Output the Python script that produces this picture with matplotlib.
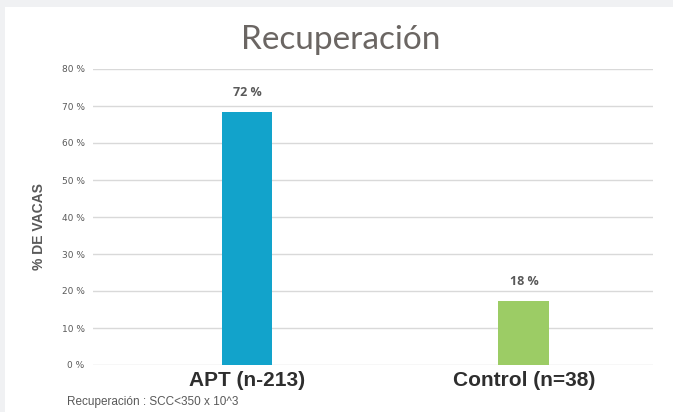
import matplotlib
matplotlib.use("Agg")
import matplotlib.pyplot as plt
from matplotlib.patches import Rectangle

categories = ["APT (n-213)", "Control (n=38)"]
values = [68.5, 17.3]
value_labels = ["72 %", "18 %"]
yticks = [0, 10, 20, 30, 40, 50, 60, 70, 80]
ytick_labels = ["0 %", "10 %", "20 %", "30 %", "40 %", "50 %", "60 %", "70 %", "80 %"]
colors = ["#12a3cb", "#9ccc65"]

W, H = 673, 412
fig = plt.figure(figsize=(W / 100, H / 100), dpi=100, facecolor="#f0f1f3")
fig.patches.append(Rectangle((5 / W, 0), 1, 1 - 7 / H, transform=fig.transFigure,
                             facecolor="white", edgecolor="none", zorder=-5))

left, right, top, bottom = 93, 653, 69, 365
ax = fig.add_axes([left / W, 1 - bottom / H, (right - left) / W, (bottom - top) / H])
ax.set_facecolor("none")
ax.set_zorder(2)

x = [0, 1]
ax.bar(x, values, width=0.184, color=colors, zorder=3)
ax.set_xlim(-0.556, 1.466)
ax.set_ylim(0, 80)
ax.set_yticks(yticks)
ax.set_yticklabels(ytick_labels, fontsize=6.5, color="#595959", family="DejaVu Sans")
ax.tick_params(axis="y", length=0, pad=6)
ax.set_xticks([])
ax.grid(axis="y", color="#d9d9d9", linewidth=1, zorder=0)
for s in ax.spines.values():
    s.set_visible(False)

for xi, v, lab in zip(x, values, value_labels):
    ax.annotate(lab, (xi, v), xytext=(0, 9), textcoords="offset points",
                ha="center", va="bottom", fontsize=9, fontweight="bold",
                color="#595959", family="Open Sans")

for xi, cat in zip(x, categories):
    ax.annotate(cat, (xi, 0), xytext=(0, -4), textcoords="offset points",
                ha="center", va="top", fontsize=15, fontweight="bold",
                color="#2e2e2e", family="Liberation Sans", annotation_clip=False)

fig.text(39 / W, 1 - 227 / H, "% DE VACAS", rotation=90, ha="center", va="center",
         fontsize=10, fontweight="bold", color="#595959", family="Liberation Sans")

fig.text(341 / W, 1 - 40 / H, "Recuperación", ha="center", va="center",
         fontsize=24, color="#6b6663", family="Lato")

fig.text(67 / W, 1 - 402 / H, "Recuperación : SCC<350 x 10^3", ha="left", va="center",
         fontsize=8.5, color="#595959", family="Liberation Sans")

fig.savefig("out.png", dpi=100, facecolor=fig.get_facecolor())
